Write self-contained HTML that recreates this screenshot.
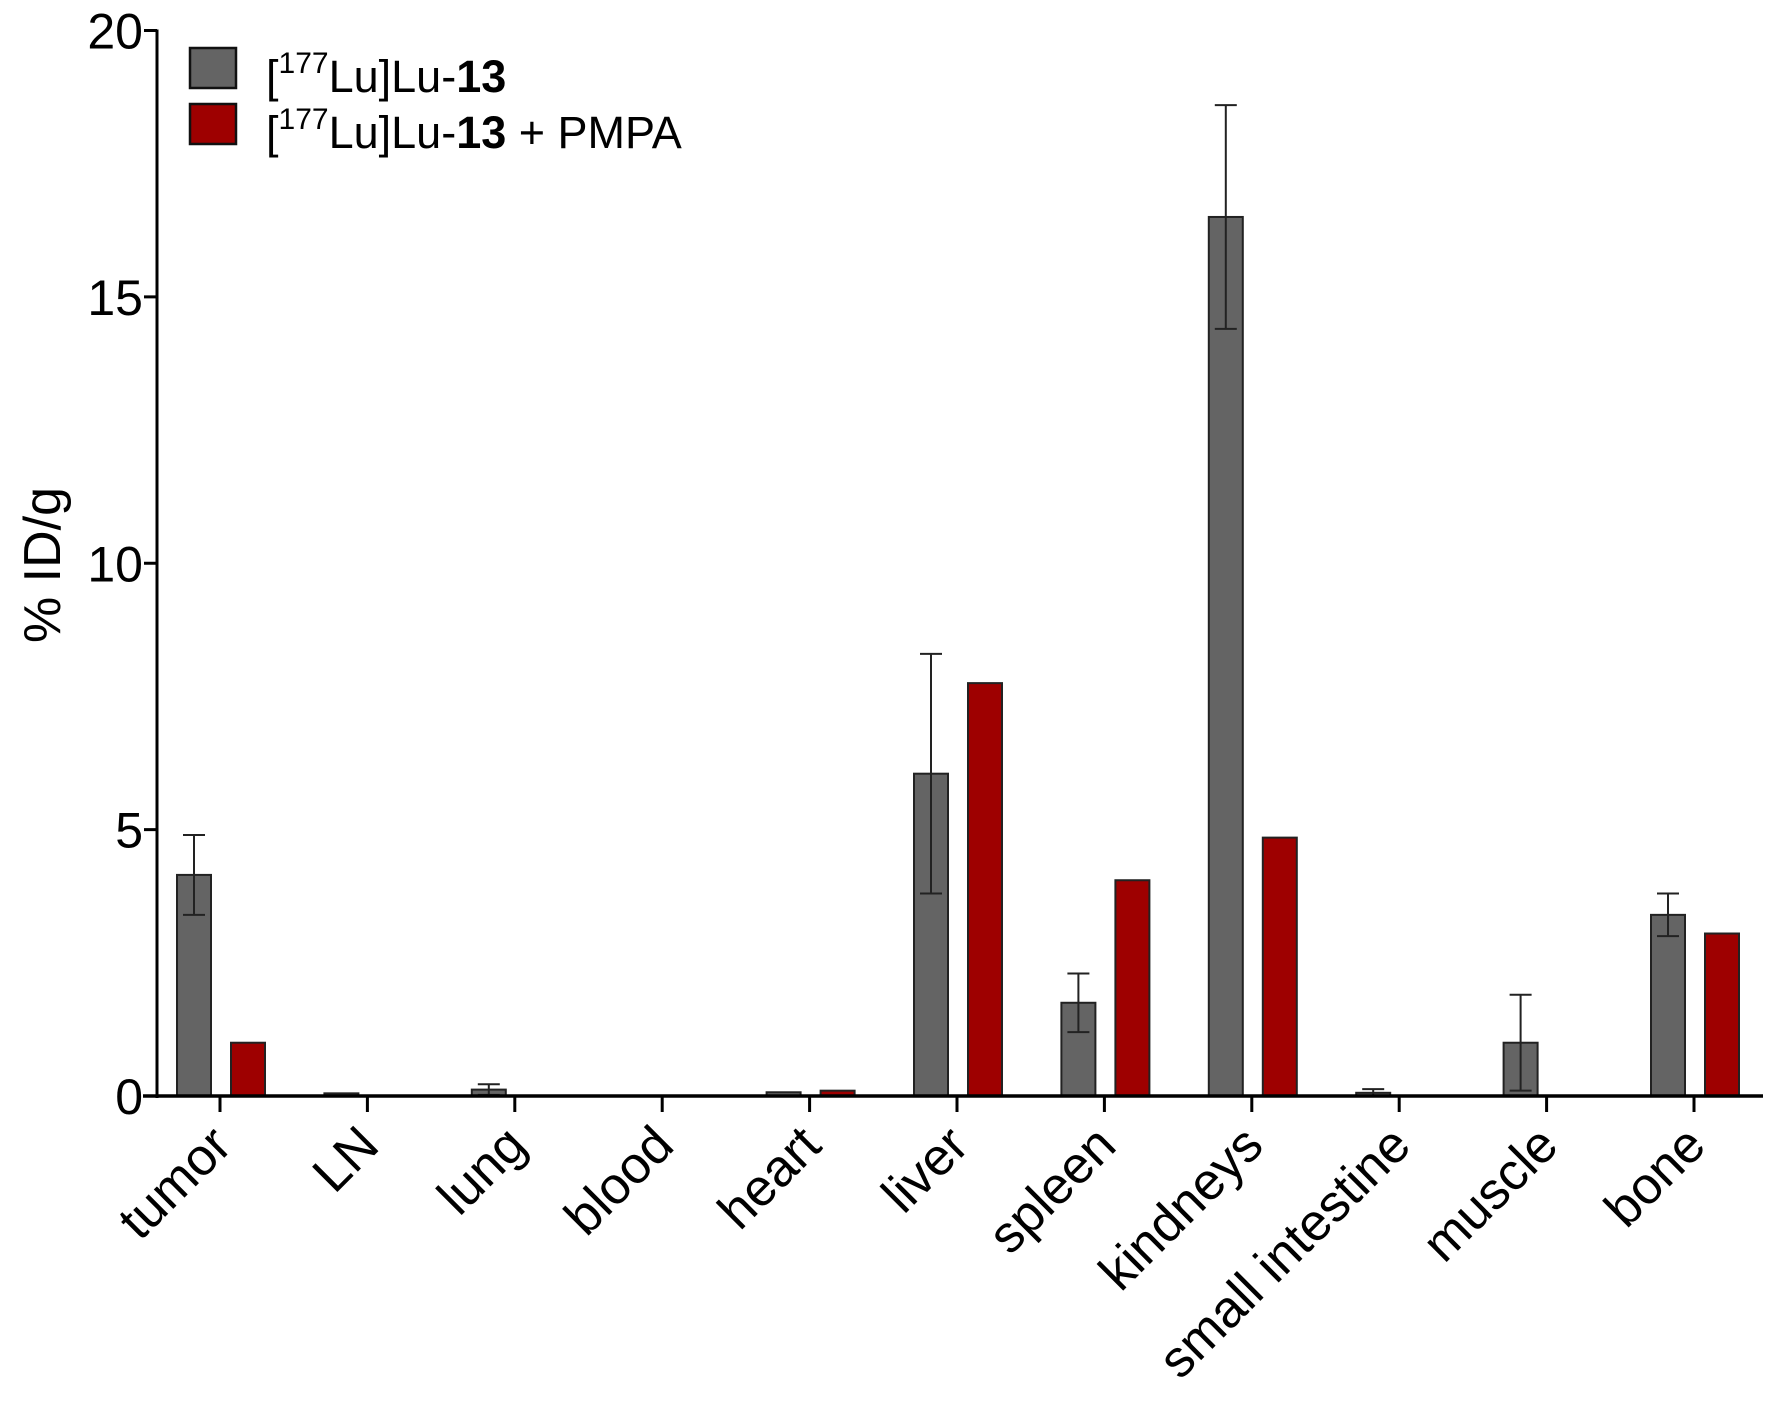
<!DOCTYPE html>
<html><head><meta charset="utf-8"><style>
body{margin:0;background:#fff}
svg{display:block;font-family:"Liberation Sans",sans-serif}
</style></head><body>
<svg id="chart" width="1772" height="1401" viewBox="0 0 1772 1401"></svg>
<script>
const categories=["tumor","LN","lung","blood","heart","liver","spleen","kindneys","small intestine","muscle","bone"];
const grayValues=[4.15,0.05,0.12,0,0.07,6.05,1.75,16.5,0.06,1.0,3.4];
const grayErrors=[0.75,0,0.1,0,0,2.25,0.55,2.1,0.07,0.9,0.4];
const redValues=[1.0,0,0,0,0.1,7.75,4.05,4.85,0,0,3.05];
const yTicks=[0,5,10,15,20];

const svg=document.getElementById('chart');
const NS='http://www.w3.org/2000/svg';
const x0=157,x1=1763,yBase=1096,yTop=30.5,yMax=20;
const firstTick=220,step=147.4,bw=34;
function y(v){return yBase-(yBase-yTop)*v/yMax;}
function xc(i){return firstTick+step*i;}
function mk(tag,attrs,parent){const e=document.createElementNS(NS,tag);for(const k in attrs)e.setAttribute(k,attrs[k]);(parent||svg).appendChild(e);return e;}

categories.forEach((c,i)=>{
  const g=grayValues[i];
  if(g>0){
    const r=mk('rect',{x:xc(i)-26-bw/2,y:y(g),width:bw,height:yBase-y(g),fill:'#646464',stroke:'#222','stroke-width':2});
    
    
  }
  const e=grayErrors[i];
  if(e>0){
    const cx=xc(i)-26;
    const eg=mk('g',{stroke:'#222','stroke-width':2});
    
    
    mk('line',{x1:cx,x2:cx,y1:y(g+e),y2:y(Math.max(0,g-e))},eg);
    mk('line',{x1:cx-11,x2:cx+11,y1:y(g+e),y2:y(g+e)},eg);
    mk('line',{x1:cx-11,x2:cx+11,y1:y(Math.max(0,g-e)),y2:y(Math.max(0,g-e))},eg);
  }
  const rv=redValues[i];
  if(rv>0){
    const r=mk('rect',{x:xc(i)+28-bw/2,y:y(rv),width:bw,height:yBase-y(rv),fill:'#9e0000',stroke:'#222','stroke-width':2});
    
    
  }
  const t=mk('line',{x1:xc(i),x2:xc(i),y1:yBase,y2:yBase+16,stroke:'#000','stroke-width':3});
  
  
  const lx=xc(i)-12,ly=yBase+26;
  const lab=mk('text',{x:lx,y:ly,'text-anchor':'end','font-size':52,transform:`rotate(-45 ${lx} ${ly})`,'dominant-baseline':'hanging'});
  lab.textContent=c;
  
  
});

const ya=mk('line',{x1:x0,x2:x0,y1:yTop-1,y2:yBase+2,stroke:'#000','stroke-width':3});


const xa=mk('line',{x1:x0-14,x2:x1,y1:yBase,y2:yBase,stroke:'#000','stroke-width':3.5});


yTicks.forEach(v=>{
  const l=mk('line',{x1:x0-13,x2:x0,y1:y(v),y2:y(v),stroke:'#000','stroke-width':3});
  
  
  const t=mk('text',{x:x0-14,y:y(v)+18,'text-anchor':'end','font-size':50});
  t.textContent=v;
  
  
});
const yt=mk('text',{x:60,y:565,'text-anchor':'middle','font-size':52,transform:'rotate(-90 60 565)'});
yt.textContent='% ID/g';


</script>
<svg style="position:absolute;left:0;top:0" width="1772" height="200">
  <rect x="190" y="48" width="46" height="40" fill="#646464" stroke="#111" stroke-width="2.5"/>
  <text x="266" y="92" font-size="45" font-family="Liberation Sans, sans-serif">[<tspan font-size="30" dy="-19">177</tspan><tspan dy="19">Lu]Lu-</tspan><tspan font-weight="bold">13</tspan></text>
  <rect x="190" y="104" width="46" height="40" fill="#9e0000" stroke="#111" stroke-width="2.5"/>
  <text x="266" y="148" font-size="45" font-family="Liberation Sans, sans-serif">[<tspan font-size="30" dy="-19">177</tspan><tspan dy="19">Lu]Lu-</tspan><tspan font-weight="bold">13</tspan> + PMPA</text>
</svg>
</body></html>
